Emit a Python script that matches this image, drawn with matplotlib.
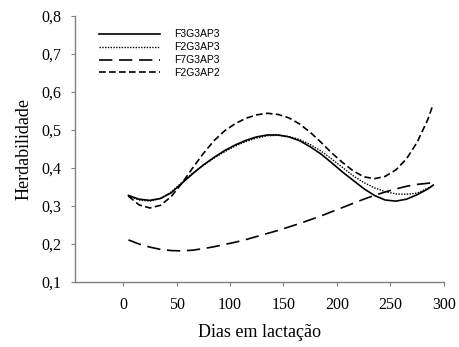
import matplotlib
matplotlib.use("Agg")
import matplotlib.pyplot as plt

# ====== DATA ======
dias = [5, 15, 25, 35, 45, 55, 65, 75, 85, 95, 105, 115, 125, 135, 145,
        155, 165, 175, 185, 195, 205, 215, 225, 235, 245, 255, 265, 275, 285, 290]

f3g3ap3 = [0.328, 0.318, 0.315, 0.320, 0.335, 0.360, 0.385, 0.408, 0.428, 0.446,
           0.461, 0.473, 0.482, 0.487, 0.487, 0.482, 0.472, 0.456, 0.437, 0.414,
           0.390, 0.368, 0.346, 0.328, 0.316, 0.313, 0.318, 0.330, 0.345, 0.355]

f2g3ap3 = [0.326, 0.316, 0.313, 0.320, 0.337, 0.362, 0.386, 0.407, 0.426, 0.443,
           0.458, 0.470, 0.479, 0.485, 0.486, 0.483, 0.475, 0.462, 0.445, 0.424,
           0.402, 0.380, 0.362, 0.348, 0.338, 0.332, 0.331, 0.334, 0.347, 0.355]

f7g3ap3 = [0.211, 0.200, 0.192, 0.186, 0.183, 0.182, 0.184, 0.188, 0.193, 0.199,
           0.205, 0.212, 0.220, 0.228, 0.236, 0.245, 0.254, 0.264, 0.274, 0.285,
           0.296, 0.307, 0.318, 0.328, 0.337, 0.345, 0.352, 0.357, 0.360, 0.361]

f2g3ap2 = [0.326, 0.303, 0.295, 0.302, 0.325, 0.360, 0.400, 0.438, 0.472, 0.498,
           0.517, 0.531, 0.540, 0.544, 0.541, 0.532, 0.516, 0.494, 0.468, 0.440,
           0.415, 0.393, 0.377, 0.372, 0.378, 0.395, 0.424, 0.468, 0.528, 0.568]

x_ticks = [0, 50, 100, 150, 200, 250, 300]
y_ticks = [0.1, 0.2, 0.3, 0.4, 0.5, 0.6, 0.7, 0.8]
y_labels = ["0,1", "0,2", "0,3", "0,4", "0,5", "0,6", "0,7", "0,8"]

# ====== PLOT ======
fig = plt.figure(figsize=(4.6, 3.47), dpi=100)
ax = fig.add_axes([0.163, 0.187, 0.802, 0.767])

lw = 1.2
ax.plot(dias, f3g3ap3, color="black", lw=lw, label="F3G3AP3")
ax.plot(dias, f2g3ap3, color="black", lw=1.0, linestyle=(0, (1, 1)), label="F2G3AP3")
ax.plot(dias, f7g3ap3, color="black", lw=lw, linestyle=(0, (8, 4)), label="F7G3AP3")
ax.plot(dias, f2g3ap2, color="black", lw=lw, linestyle=(0, (4, 2)), label="F2G3AP2")

ax.set_xlim(-45, 300)
ax.set_ylim(0.1, 0.8)
ax.set_xticks(x_ticks)
ax.set_yticks(y_ticks)
ax.set_yticklabels(y_labels)

for side in ["top", "right"]:
    ax.spines[side].set_visible(False)
for side in ["left", "bottom"]:
    ax.spines[side].set_color("#808080")
    ax.spines[side].set_linewidth(1.0)

ax.tick_params(axis="both", colors="#808080", length=3, labelcolor="black",
               labelsize=11.5)
ax.tick_params(axis="x", pad=8)
ax.tick_params(axis="y", pad=7)
for lab in ax.get_xticklabels() + ax.get_yticklabels():
    lab.set_family("Liberation Serif")

ax.set_xlabel("Dias em lactação", family="Liberation Serif", fontsize=13, labelpad=8)
ax.set_ylabel("Herdabilidade", family="Liberation Serif", fontsize=13, labelpad=6)

leg = ax.legend(loc="upper left", bbox_to_anchor=(0.04, 0.985), frameon=False,
                prop={"family": "Liberation Sans", "size": 7.5},
                handlelength=5.8, handletextpad=1.4, labelspacing=0.28)

plt.savefig("out.png", dpi=100)
plt.close()
